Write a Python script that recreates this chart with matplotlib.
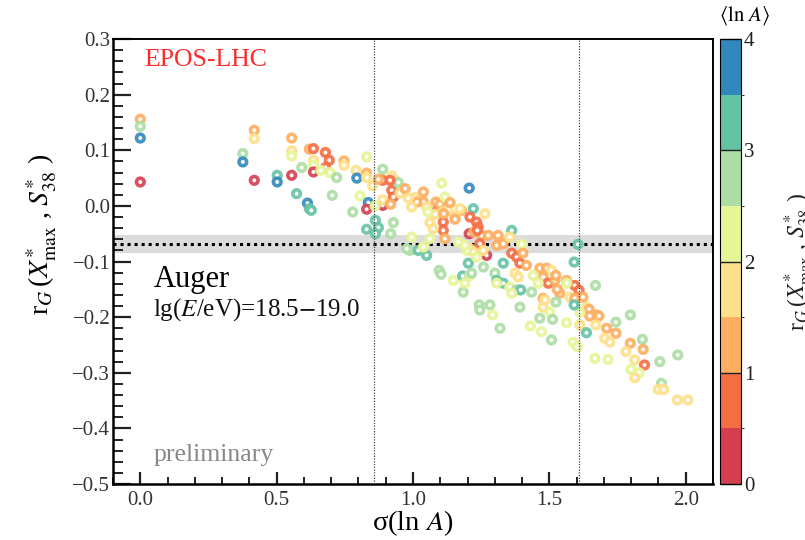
import matplotlib.pyplot as plt
import numpy as np
from matplotlib.colors import ListedColormap, BoundaryNorm
from matplotlib.ticker import MultipleLocator, FuncFormatter
import matplotlib.cm as cm

plt.rcParams['font.family'] = ['Liberation Serif', 'DejaVu Serif']
plt.rcParams['mathtext.fontset'] = 'stix'

# sigma(ln A), r_G(X*max, S*38) and <ln A> of each model point
sigma = [
    0.000, 0.000, 0.000, 0.000, 0.376, 0.376, 0.418, 0.418, 0.418, 0.502,
    0.502, 0.555, 0.555, 0.555, 0.555, 0.573, 0.592, 0.613, 0.620, 0.627,
    0.620, 0.635, 0.635, 0.635, 0.635, 0.679, 0.693, 0.679, 0.662, 0.696,
    0.720, 0.704, 0.747, 0.747, 0.779, 0.791, 0.794, 0.806, 0.830, 0.830,
    0.830, 0.836, 0.830, 0.852, 0.862, 0.830, 0.873, 0.862, 0.889, 0.889,
    0.873, 0.889, 0.889, 0.922, 0.934, 0.922, 0.928, 0.918, 0.928, 0.918,
    0.861, 0.946, 0.952, 0.971, 0.995, 0.989, 1.019, 1.050, 1.038, 1.062,
    1.007, 1.038, 1.038, 1.105, 1.084, 1.084, 1.062, 1.111, 1.111, 1.117,
    1.099, 1.117, 1.206, 1.178, 1.221, 1.209, 1.233, 1.239, 1.206, 1.223,
    1.252, 1.245, 1.276, 1.264, 1.270, 1.209, 1.221, 1.203, 1.233, 1.258,
    1.307, 1.331, 1.362, 1.355, 1.398, 1.362, 1.380, 1.392, 1.416, 1.331,
    1.300, 1.374, 1.465, 1.477, 1.490, 1.441, 1.496, 1.538, 1.563, 1.593,
    1.609, 1.591, 1.605, 1.669, 1.331, 1.355, 1.380, 1.435, 1.477, 1.575,
    1.593, 1.636, 1.673, 1.646, 1.648, 1.477, 1.502, 1.392, 1.282, 1.243,
    1.245, 1.292, 1.184, 1.148, 1.182, 1.209, 1.190, 1.096, 1.103, 0.977,
    1.074, 1.166, 1.197, 1.258, 1.050, 1.081, 1.111, 1.154, 1.129, 1.014,
    0.995, 0.983, 1.172, 1.136, 1.113, 1.154, 1.236, 1.312, 1.190, 1.215,
    1.307, 1.386, 1.395, 1.459, 1.520, 1.508, 1.524, 1.564, 1.593, 1.623,
    1.524, 1.484, 1.682, 1.612, 1.591, 1.465, 1.512, 1.563, 1.612, 1.636,
    1.744, 1.797, 1.710, 1.744, 1.703, 1.722, 1.797, 1.841, 1.844, 1.781,
    1.813, 1.849, 1.508, 1.587, 1.602, 1.667, 1.715, 1.471, 1.431, 1.905,
    1.971, 1.799, 1.829, 1.813, 1.911, 1.899, 1.919, 1.970, 2.008, 1.319,
    1.307, 1.362, 1.403, 1.529, 1.670, 0.916, 1.055,
]
r_g = [
    0.156, 0.143, 0.122, 0.043, 0.094, 0.079, 0.136, 0.121, 0.046, 0.055,
    0.043, 0.122, 0.099, 0.090, 0.055, 0.022, 0.069, 0.005, -0.005, -0.008,
    0.102, 0.103, 0.082, 0.073, 0.061, 0.096, 0.082, 0.069, 0.064, 0.060,
    0.051, 0.019, 0.081, 0.073, -0.011, 0.064, 0.050, 0.018, 0.088, 0.059,
    0.051, 0.006, -0.006, 0.036, -0.026, -0.042, -0.039, -0.050, 0.066, 0.046,
    0.048, 0.001, 0.011, 0.054, 0.046, 0.028, 0.016, 0.003, -0.030, -0.050,
    0.000, 0.042, 0.023, 0.031, -0.056, -0.080, -0.080, -0.089, -0.074, -0.059,
    0.015, 0.025, 0.007, 0.041, 0.007, -0.011, -0.030, -0.029, -0.044, -0.059,
    0.003, 0.016, 0.032, -0.008, -0.005, -0.020, -0.029, -0.038, -0.050, -0.047,
    -0.053, -0.068, -0.053, -0.014, -0.089, -0.077, -0.083, -0.103, -0.092, -0.110,
    -0.071, -0.068, -0.044, -0.056, -0.069, -0.085, -0.092, -0.103, -0.107, -0.103,
    -0.121, -0.121, -0.112, -0.128, -0.112, -0.125, -0.139, -0.157, -0.134, -0.143,
    -0.152, -0.101, -0.069, -0.143, -0.139, -0.146, -0.151, -0.155, -0.166, -0.164,
    -0.173, -0.182, -0.196, -0.186, -0.198, -0.182, -0.191, -0.182, -0.178, -0.178,
    -0.187, -0.196, -0.155, -0.134, -0.126, -0.125, -0.139, -0.116, -0.123, -0.077,
    -0.041, -0.065, -0.080, -0.080, -0.002, -0.015, -0.011, -0.020, -0.008, 0.007,
    -0.002, 0.014, -0.005, 0.006, -0.014, -0.024, -0.044, -0.053, -0.071, -0.121,
    -0.134, -0.128, -0.151, -0.139, -0.134, -0.116, -0.125, -0.139, -0.166, -0.164,
    -0.173, -0.169, -0.198, -0.191, -0.178, -0.202, -0.204, -0.210, -0.214, -0.228,
    -0.209, -0.196, -0.220, -0.229, -0.238, -0.245, -0.247, -0.240, -0.258, -0.262,
    -0.277, -0.286, -0.241, -0.245, -0.253, -0.274, -0.276, -0.226, -0.216, -0.280,
    -0.268, -0.294, -0.300, -0.309, -0.319, -0.330, -0.330, -0.349, -0.349, -0.220,
    -0.139, -0.157, -0.085, -0.150, -0.214, 0.046, -0.011,
]
mean_lnA = [
    1.2, 2.8, 3.7, 0.3, 2.8, 3.7, 1.2, 1.7, 0.3, 3.3,
    3.7, 1.2, 1.7, 2.2, 0.3, 3.3, 2.8, 3.7, 3.3, 3.3,
    1.2, 0.8, 1.7, 2.2, 0.3, 0.8, 0.8, 0.8, 2.2, 2.2,
    2.8, 2.8, 1.2, 1.7, 2.8, 1.7, 3.7, 2.2, 2.2, 1.2,
    1.7, 3.7, 0.3, 1.7, 3.3, 3.3, 3.3, 3.3, 2.8, 0.8,
    1.2, 0.3, 1.7, 1.7, 1.7, 0.8, 0.8, 1.2, 2.8, 2.8,
    2.2, 2.8, 1.7, 1.2, 2.2, 2.8, 3.3, 3.3, 2.2, 2.2,
    1.7, 1.2, 1.2, 2.2, 1.2, 0.8, 1.7, 0.8, 0.8, 1.2,
    1.2, 2.2, 3.7, 1.2, 3.3, 0.8, 0.8, 0.8, 0.3, 1.2,
    1.2, 0.8, 1.2, 1.7, 0.3, 1.7, 1.7, 3.3, 2.2, 2.8,
    1.2, 1.2, 3.3, 1.7, 2.2, 0.8, 0.8, 0.8, 1.2, 3.3,
    2.8, 1.7, 1.2, 1.2, 1.2, 2.2, 0.8, 1.2, 1.2, 0.8,
    0.8, 3.3, 3.3, 2.8, 3.3, 2.2, 2.8, 2.8, 1.2, 1.7,
    1.7, 1.7, 1.2, 1.2, 1.2, 1.7, 2.2, 2.8, 2.8, 2.8,
    2.8, 2.2, 2.8, 2.2, 3.3, 2.2, 2.2, 2.8, 2.8, 2.8,
    1.7, 2.2, 2.2, 1.7, 1.7, 1.7, 1.7, 1.7, 1.7, 1.2,
    1.7, 1.7, 1.7, 1.2, 1.2, 1.2, 0.8, 1.2, 2.2, 2.8,
    3.3, 1.7, 3.3, 2.2, 1.2, 1.7, 1.2, 2.2, 1.2, 1.2,
    2.8, 1.7, 1.2, 2.2, 3.3, 2.8, 2.8, 2.2, 1.7, 3.3,
    2.8, 2.8, 1.2, 1.2, 1.7, 1.7, 1.2, 2.8, 1.2, 1.7,
    1.7, 0.8, 2.8, 2.2, 2.2, 2.2, 2.2, 2.2, 2.2, 2.8,
    2.8, 2.2, 2.2, 1.7, 2.8, 1.7, 1.7, 1.7, 1.7, 2.8,
    2.2, 2.2, 1.2, 1.2, 1.7, 0.8, 2.2,
]

# Auger data: r_G value and its band, sigma(lnA) range compatible with it
auger_rg = -0.068
auger_band = (-0.085, -0.052)
sigma_range = (0.857, 1.608)

palette = ['#d53e4f', '#f46d43', '#fdae61', '#fee08b',
           '#e6f598', '#abdda4', '#66c2a5', '#3288bd']
cmap = ListedColormap(palette)
norm = BoundaryNorm(np.arange(0, 4.01, 0.5), cmap.N)

fig = plt.figure(figsize=(8.05, 5.4), dpi=100)
ax = fig.add_axes([0.1404, 0.1037, 0.7453, 0.824])
cax = fig.add_axes([0.8944, 0.1037, 0.0261, 0.824])

# === band + dotted lines ===
ax.axhspan(auger_band[0], auger_band[1], color='#dcdcdc', lw=0, zorder=1)
ax.axhline(auger_rg, color='black', lw=2.2, ls=(0, (1, 1.3)), zorder=2)

edge = cmap(norm(np.array(mean_lnA)))
edge[:, 3] = 0.9
ax.scatter(sigma, r_g, s=30, facecolors='white', edgecolors=edge,
           linewidths=2.6, zorder=3)

for xv in sigma_range:
    ax.axvline(xv, color='#444444', lw=0.9, ls=(0, (1, 1.2)), zorder=4)

ax.set_xlim(-0.1, 2.1)
ax.set_ylim(-0.5, 0.3)

# === ticks ===
fmt = FuncFormatter(lambda v, p: f'{v:.1f}'.replace('-', '\u2212') if abs(v) > 1e-9 else '0.0')
ax.xaxis.set_major_locator(MultipleLocator(0.5))
ax.xaxis.set_minor_locator(MultipleLocator(0.1))
ax.yaxis.set_major_locator(MultipleLocator(0.1))
ax.yaxis.set_minor_locator(MultipleLocator(0.02))
ax.xaxis.set_major_formatter(fmt)
ax.yaxis.set_major_formatter(fmt)
ax.tick_params(axis='both', which='both', direction='in', colors='#222222',
               labelcolor='#333333', labelsize=15, top=False, right=False)
ax.tick_params(axis='y', which='major', length=13, width=1.6, pad=2)
ax.tick_params(axis='y', which='minor', length=7, width=1.4)
ax.tick_params(axis='x', which='major', length=9, width=1.6, pad=5)
ax.tick_params(axis='x', which='minor', length=5, width=1.4)
for side in ['left', 'bottom']:
    ax.spines[side].set_linewidth(1.8)
for side in ['top', 'right']:
    ax.spines[side].set_linewidth(1.4)

ax.set_xlabel(r'σ(ln $A$)', fontsize=20.5)
ax.xaxis.set_label_coords(0.5, -0.055)
ax.xaxis.label.set_va('top')
ax.set_ylabel(r'r$_G\,$($X^{*}_{\mathrm{max}}$ , $S^{*}_{38}$ )', fontsize=20)
ax.yaxis.set_label_coords(-0.09, 0.56)

# === texts ===
ax.text(0.016, 0.262, 'EPOS-LHC', color='#ff2a2a', fontsize=18.5, ha='left', va='center')
ax.text(0.048, -0.132, 'Auger', color='black', fontsize=22, ha='left', va='center')
ax.text(0.048, -0.187, r'lg($E$/eV)=18.5$-$19.0', color='#111111', fontsize=18,
        ha='left', va='center')
ax.text(0.048, -0.448, 'preliminary', color='#888888', fontsize=18.5, ha='left', va='center')

# === colour bar ===
sm = cm.ScalarMappable(norm=norm, cmap=cmap)
cb = fig.colorbar(sm, cax=cax, ticks=[0, 1, 2, 3, 4])
cb.outline.set_linewidth(0.8)
cax.tick_params(direction='in', length=15, width=1.0, labelsize=15, pad=2,
                colors='#222222', labelcolor='#222222')
cax.set_yticklabels(['0', '1', '2', '3', '4'])
fig.text(0.925, 0.972, r'$\langle \mathrm{ln}\ A \rangle$', fontsize=15,
         ha='center', va='center')

# piece of the neighbouring panel's axis title, cut by the image border
fig.text(0.972, 0.515, r'r$_G\,$($X^{*}_{\mathrm{max}}$ , $S^{*}_{38}$ )',
         fontsize=17, rotation=90, ha='left', va='center', color='#222222')

fig.savefig('out.png', dpi=100)
